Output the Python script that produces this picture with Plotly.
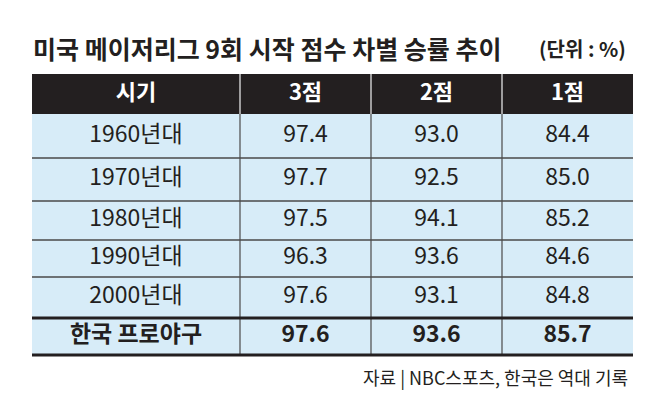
import plotly.graph_objects as go

# 시기별 9회 시작 시점 리드 점수(3/2/1점)별 승률
periods = ["1960년대", "1970년대", "1980년대", "1990년대", "2000년대", "한국 프로야구"]
lead_3 = [97.4, 97.7, 97.5, 96.3, 97.6, 97.6]
lead_2 = [93.0, 92.5, 94.1, 93.6, 93.1, 93.6]
lead_1 = [84.4, 85.0, 85.2, 84.6, 84.8, 85.7]
headers = ["시기", "3점", "2점", "1점"]

TITLE = "미국 메이저리그 9회 시작 점수 차별 승률 추이"
UNIT = "(단위 : %)"
SOURCE = "자료 | NBC스포츠, 한국은 역대 기록"

W, H = 650, 401
FONT = "Noto Sans CJK KR"
DARK = "#231f20"
ROW_BG = "#d7ecf8"
GRID = "#4a4a4a"

# table grid in pixel units (axes are set up 1:1 with the canvas)
col_edges = [24, 232, 363, 494, 625]
header_top, header_bottom = 66, 106
row_edges = [106, 150, 193, 232, 269, 310, 347]


def _fmt(values):
    out = [v if isinstance(v, str) else f"{v:.1f}" for v in values]
    out[-1] = f"<b>{out[-1]}</b>"  # 한국 프로야구 row is bold
    return out


col_mid = [(a + b) / 2 for a, b in zip(col_edges[:-1], col_edges[1:])]
row_mid = [(a + b) / 2 for a, b in zip(row_edges[:-1], row_edges[1:])]

fig = go.Figure()

columns = [_fmt(periods), _fmt(lead_3), _fmt(lead_2), _fmt(lead_1)]
for cx, texts in zip(col_mid, columns):
    fig.add_trace(go.Scatter(
        x=[cx] * len(texts), y=row_mid, text=texts, mode="text",
        textposition="middle center",
        textfont=dict(family=FONT, size=23, color=DARK),
        hoverinfo="skip", showlegend=False,
    ))

fig.add_trace(go.Scatter(
    x=col_mid, y=[(header_top + header_bottom) / 2] * len(headers),
    text=[f"<b>{h}</b>" for h in headers], mode="text",
    textposition="middle center",
    textfont=dict(family=FONT, size=22, color="white"),
    hoverinfo="skip", showlegend=False,
))

shapes = [
    dict(type="rect", x0=col_edges[0], x1=col_edges[-1], y0=header_top, y1=header_bottom,
         fillcolor=DARK, line_width=0, layer="below"),
    dict(type="rect", x0=col_edges[0], x1=col_edges[-1], y0=row_edges[0], y1=row_edges[-1],
         fillcolor=ROW_BG, line_width=0, layer="below"),
]
for x in col_edges[1:-1]:
    shapes.append(dict(type="line", x0=x, x1=x, y0=header_top, y1=header_bottom,
                       line=dict(color="#c8c8c8", width=1.5), layer="below"))
    shapes.append(dict(type="line", x0=x, x1=x, y0=row_edges[0], y1=row_edges[-1],
                       line=dict(color=GRID, width=1.2), layer="below"))
for y in row_edges[1:-2]:
    shapes.append(dict(type="line", x0=col_edges[0], x1=col_edges[-1], y0=y, y1=y,
                       line=dict(color=GRID, width=1.5), layer="below"))
for y in row_edges[-2:]:
    shapes.append(dict(type="line", x0=col_edges[0], x1=col_edges[-1], y0=y, y1=y,
                       line=dict(color=DARK, width=3), layer="below"))

fig.update_layout(
    width=W,
    height=H,
    margin=dict(l=0, r=0, t=0, b=0),
    paper_bgcolor="white",
    plot_bgcolor="white",
    font=dict(family=FONT, color=DARK),
    xaxis=dict(range=[0, W], visible=False, fixedrange=True),
    yaxis=dict(range=[H, 0], visible=False, fixedrange=True),
    shapes=shapes,
    annotations=[
        dict(text=f"<b>{TITLE}</b>", x=23, y=40, xanchor="left", yanchor="middle",
             showarrow=False, font=dict(size=25, color=DARK)),
        dict(text=f"<b>{UNIT}</b>", x=620, y=40, xanchor="right", yanchor="middle",
             showarrow=False, font=dict(size=20, color=DARK)),
        dict(text=SOURCE, x=622, y=369, xanchor="right", yanchor="middle",
             showarrow=False, font=dict(size=18, color=DARK)),
    ],
)

fig.write_html("out.html")
